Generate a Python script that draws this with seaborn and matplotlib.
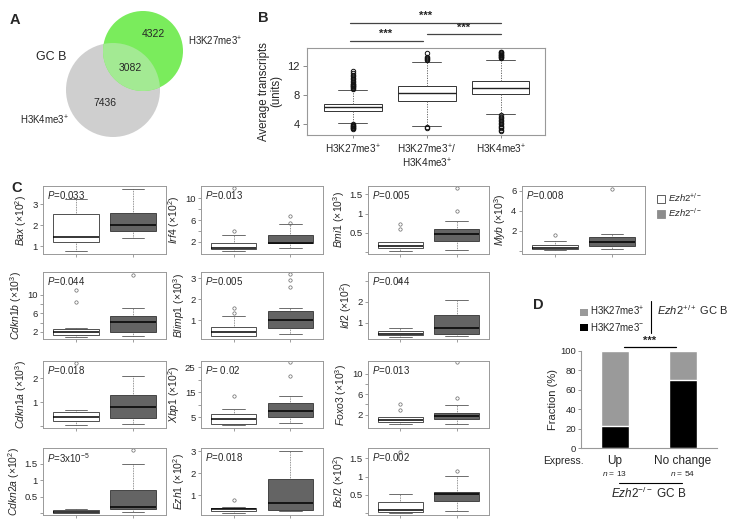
import matplotlib
matplotlib.use("Agg")
import matplotlib.pyplot as plt
from matplotlib.patches import Circle, Patch
import seaborn as sns

sns.set_style("ticks")
plt.rcParams['font.family'] = ['Liberation Sans', 'DejaVu Sans']
plt.rcParams['mathtext.fontset'] = 'custom'
plt.rcParams['mathtext.rm'] = 'Liberation Sans'
plt.rcParams['mathtext.it'] = 'Liberation Sans:italic'
plt.rcParams['mathtext.bf'] = 'Liberation Sans:bold'

W, H = 735, 528

# ---- panel A: Venn counts
venn_counts = [4322, 3082, 7436]   # H3K27me3 only, both, H3K4me3 only

# ---- panel B: box stats
b_groups = ["H3K27me3$^{+}$", "H3K27me3$^{+}$/\nH3K4me3$^{+}$", "H3K4me3$^{+}$"]
b_lo = [4.09, 3.77, 5.36]
b_q1 = [5.82, 7.18, 8.09]
b_med = [6.36, 8.23, 9.05]
b_q3 = [6.82, 9.27, 10.0]
b_hi = [8.68, 12.55, 12.86]
b_out = [
    [8.9, 9.0, 9.1, 9.2, 9.3, 9.4, 9.5, 9.6, 9.8, 10.0, 10.2, 10.4, 10.6, 10.8, 11.0, 11.3,
     3.3, 3.4, 3.5, 3.6, 3.7, 3.8, 3.9, 4.0],
    [12.9, 13.0, 13.1, 13.2, 13.8, 3.5, 3.6],
    [13.1, 13.2, 13.3, 13.4, 13.5, 13.6, 13.7, 13.8, 13.9, 14.0,
     5.2, 5.0, 4.8, 4.6, 4.4, 4.2, 4.0, 3.8, 3.6, 3.4, 3.2, 3.1],
]

# ---- panel C: per-gene box stats  [whislo, q1, med, q3, whishi]
c_genes = ["Bax", "Irf4", "Bmi1", "Myb", "Cdkn1b", "Blimp1", "Id2",
           "Cdkn1a", "Xbp1", "Foxo3", "Cdkn2a", "Ezh1", "Bcl2"]
c_exp = [2, 2, 3, 3, 3, 3, 2, 3, 2, 3, 2, 2, 2]
c_p = ["0.033", "0.013", "0.005", "0.008", "0.044", "0.005", "0.044",
       "0.018", " 0.02", "0.013", "3x10$^{-5}$", "0.018", "0.002"]
c_ticks = [[1, 2, 3], [2, 4, 6, 8, 10], [0, 0.5, 1, 1.5], [0, 2, 4, 6],
           [2, 4, 6, 8, 10], [1, 2, 3], [1, 2, 3], [0, 1, 2], [5, 10, 15, 20, 25],
           [2, 4, 6, 8, 10], [0, 0.5, 1, 1.5], [1, 2, 3], [0, 0.5, 1, 1.5]]
c_shown = [[1, 2, 3], [2, 6, 10], [0.5, 1, 1.5], [2, 4, 6],
           [2, 6, 10], [1, 2, 3], [1, 2], [1, 2], [5, 15, 25],
           [2, 6, 10], [0.5, 1, 1.5], [1, 2, 3], [0.5, 1, 1.5]]
c_ylim = [(0.62, 3.88), (-0.2, 12.2), (-0.05, 1.72), (-0.3, 6.45),
          (0.5, 14.85), (0.1, 3.3), (0.21, 3.45), (-0.07, 2.72), (0.8, 27.4),
          (-0.6, 12.5), (-0.05, 1.97), (0.09, 3.14), (-0.05, 1.78)]
c_het = [[0.74, 1.18, 1.42, 2.52, 3.24], [0.43, 0.67, 0.92, 1.88, 3.2],
         [0.03, 0.10, 0.16, 0.25, 0.27], [0.05, 0.17, 0.33, 0.57, 0.97],
         [1.0, 1.43, 1.9, 2.64, 2.85], [0.22, 0.25, 0.43, 0.68, 1.2],
         [0.31, 0.41, 0.47, 0.58, 0.73], [0.05, 0.21, 0.375, 0.6, 0.68],
         [1.9, 2.3, 4.3, 6.4, 8.4], [0.1, 0.66, 1.06, 1.46, 1.6],
         [0.01, 0.02, 0.05, 0.09, 0.13], [0.17, 0.27, 0.35, 0.42, 0.45],
         [0.0, 0.03, 0.1, 0.31, 0.52]]
c_het_out = [[], [4.0, 11.9], [0.60, 0.73], [1.6], [8.5, 11.1], [1.35, 1.56],
             [3.05], [2.65], [13.5], [2.86, 4.0], [], [0.77], [1.68]]
c_ko = [[1.37, 1.74, 2.0, 2.57, 3.75], [0.98, 1.76, 1.88, 3.2, 5.3],
        [0.05, 0.29, 0.47, 0.60, 0.80], [0.17, 0.53, 0.87, 1.37, 1.7],
        [1.15, 2.06, 4.1, 5.4, 7.1], [0.32, 0.63, 1.03, 1.44, 1.60],
        [0.36, 0.44, 0.73, 1.37, 2.1], [0.08, 0.33, 0.8, 1.29, 2.1],
        [2.7, 5.2, 7.7, 10.6, 13.5], [0.26, 1.14, 1.8, 2.4, 3.94],
        [0.03, 0.12, 0.2, 0.70, 1.48], [0.27, 0.32, 0.62, 1.73, 3.0],
        [0.05, 0.32, 0.52, 0.59, 1.02]]
c_ko_out = [[], [5.5, 6.76], [1.07, 1.66], [6.2], [14.3], [2.6, 2.9, 3.2],
            [], [], [21.4, 27.0], [5.34, 12.26], [1.9], [], [1.15]]

# ---- panel D
d_cats = ["Up", "No change"]
d_total = [100, 100]
d_neg = [23.1, 70.4]
d_n = [13, 54]

fig = plt.figure(figsize=(W / 100, H / 100), dpi=100)

ax0 = fig.add_axes([0, 0, 1, 1])
ax0.set_xlim(0, W)
ax0.set_ylim(H, 0)
ax0.axis("off")


def add_ax(l, t, r, b):
    return fig.add_axes([l / W, 1 - b / H, (r - l) / W, (b - t) / H])


def stats(v, out):
    return dict(whislo=v[0], q1=v[1], med=v[2], q3=v[3], whishi=v[4], fliers=out)


# panel letters
for letter, x, y in [("A", 15, 20), ("B", 263, 18), ("C", 17, 188), ("D", 538, 305)]:
    ax0.text(x, y, letter, fontsize=10.5, fontweight="bold", ha="center", va="center")

# ---- A: Venn
gray_c = Circle((113, 90), 47, fc="#cfcfcf", ec="none")
green_c = Circle((143, 51), 40, fc="#7aec5c", ec="none")
ax0.add_patch(gray_c)
ax0.add_patch(green_c)
overlap = Circle((113, 90), 47, fc="#a3ea93", ec="none")
ax0.add_patch(overlap)
overlap.set_clip_path(green_c)
ax0.text(153, 34, f"{venn_counts[0]}", fontsize=7.5, ha="center", va="center")
ax0.text(130, 68, f"{venn_counts[1]}", fontsize=7.5, ha="center", va="center")
ax0.text(105, 103, f"{venn_counts[2]}", fontsize=7.5, ha="center", va="center")
ax0.text(51, 57, "GC B", fontsize=9, ha="center", va="center")
ax0.text(188, 41, "H3K27me3$^{+}$", fontsize=7, ha="left", va="center")
ax0.text(20, 120, "H3K4me3$^{+}$", fontsize=7, ha="left", va="center")

# ---- B
axb = add_ax(307, 48, 545, 135)
bst = [stats([b_lo[i], b_q1[i], b_med[i], b_q3[i], b_hi[i]], b_out[i]) for i in range(3)]
axb.bxp(bst, positions=[1, 2, 3], widths=0.78, capwidths=0.39, patch_artist=True,
        boxprops=dict(facecolor="white", edgecolor="#333333", linewidth=0.7),
        medianprops=dict(color="#222222", linewidth=1.0),
        whiskerprops=dict(color="#555555", linewidth=0.6, linestyle=(0, (1.5, 1.5))),
        capprops=dict(color="#555555", linewidth=0.7),
        flierprops=dict(marker="o", markersize=3.2, markerfacecolor="none",
                        markeredgecolor="#111111", markeredgewidth=0.7))
axb.set_xlim(0.38, 3.6)
axb.set_ylim(2.5, 14.5)
axb.set_yticks([4, 8, 12])
axb.set_xticks([1, 2, 3])
axb.set_xticklabels(b_groups, fontsize=7.2, linespacing=1.1)
axb.tick_params(axis="y", labelsize=8, length=3, width=0.6, pad=2, color="#777777")
axb.tick_params(axis="x", length=2.5, width=0.6, pad=3, color="#777777")
axb.set_ylabel("Average transcripts\n(units)", fontsize=8.3, labelpad=4, linespacing=1.05)
for s in axb.spines.values():
    s.set_color("#999999")
    s.set_linewidth(0.8)
for x0, x1, yv, xs in [(0.96, 3.0, 17.97, 1.98), (0.96, 1.95, 15.5, 1.44), (2.01, 3.0, 16.4, 2.5)]:
    axb.plot([x0, x1], [yv, yv], color="#444444", lw=0.9, clip_on=False)
    axb.text(xs, yv + 0.25, "***", fontsize=8, ha="center", va="bottom", fontweight="bold")

# ---- C
col_l = [43, 201, 368, 522]
col_r = [166, 323, 489, 645]
row_t = [186, 272, 361, 448]
row_b = [254, 339, 428, 515]
c_cells = [(0, 0), (0, 1), (0, 2), (0, 3), (1, 0), (1, 1), (1, 2),
           (2, 0), (2, 1), (2, 2), (3, 0), (3, 1), (3, 2)]
for i, g in enumerate(c_genes):
    r, c = c_cells[i]
    ax = add_ax(col_l[c], row_t[r], col_r[c], row_b[r])
    fp = dict(marker="o", markersize=2.4, markerfacecolor="none",
              markeredgecolor="#666666", markeredgewidth=0.5)
    bp = ax.bxp([stats(c_het[i], c_het_out[i]), stats(c_ko[i], c_ko_out[i])],
                positions=[1, 2], widths=0.8, capwidths=0.4, patch_artist=True,
                boxprops=dict(edgecolor="#333333", linewidth=0.6),
                medianprops=dict(color="black", linewidth=1.1),
                whiskerprops=dict(color="#555555", linewidth=0.5, linestyle=(0, (1.2, 1.2))),
                capprops=dict(color="#555555", linewidth=0.6),
                flierprops=fp)
    bp["boxes"][0].set_facecolor("white")
    bp["boxes"][1].set_facecolor("#646464")
    ax.set_xlim(0.42, 2.58)
    ax.set_ylim(*c_ylim[i])
    ax.set_xticks([1, 2])
    ax.set_xticklabels([])
    ax.set_yticks(c_ticks[i])
    ax.set_yticklabels([f"{t:g}" if t in c_shown[i] else "" for t in c_ticks[i]])
    ax.tick_params(axis="y", labelsize=6.8, length=2.5, width=0.5, pad=1.5, color="#777777")
    ax.tick_params(axis="x", length=2, width=0.5, color="#777777")
    ax.set_ylabel(rf"$\mathit{{{g}}}$ (×10$^{{{c_exp[i]}}}$)", fontsize=7.5, labelpad=2)
    for s in ax.spines.values():
        s.set_color("#999999")
        s.set_linewidth(0.7)
    ax.text(0.035, 0.95, rf"$\mathit{{P}}$={c_p[i]}", transform=ax.transAxes,
            fontsize=7, ha="left", va="top")

# legend C
leg_c = [Patch(facecolor="white", edgecolor="#444444", linewidth=0.6, label=r"$\mathit{Ezh2}^{+/-}$"),
         Patch(facecolor="#8c8c8c", edgecolor="#8c8c8c", linewidth=0.6, label=r"$\mathit{Ezh2}^{-/-}$")]
fig.legend(handles=leg_c, loc="upper left", bbox_to_anchor=(652 / W, 1 - 187 / H),
           frameon=False, fontsize=6.8, handlelength=0.9, handleheight=0.9,
           handletextpad=0.25, labelspacing=0.25, borderpad=0)

# ---- D
axd = add_ax(581, 350.7, 717, 448.3)
sns.barplot(x=d_cats, y=d_total, color="#9a9a9a", width=0.4, saturation=1, ax=axd)
sns.barplot(x=d_cats, y=d_neg, color="black", width=0.4, saturation=1, ax=axd)
axd.set_xlim(-0.5, 1.5)
axd.set_ylim(0, 100)
axd.set_yticks([0, 20, 40, 60, 80, 100])
axd.tick_params(axis="y", labelsize=6.8, length=2.5, width=0.6, pad=1, color="#888888")
axd.tick_params(axis="x", labelsize=8.5, length=0, pad=5)
axd.set_ylabel("Fraction (%)", fontsize=8, labelpad=2)
axd.set_xlabel("")
sns.despine(ax=axd)
for s in ["left", "bottom"]:
    axd.spines[s].set_color("#999999")
    axd.spines[s].set_linewidth(0.8)
for j, n in enumerate(d_n):
    axd.text(j, -0.26, rf"$\mathit{{n}}$ = {n}", transform=axd.get_xaxis_transform(),
             fontsize=6, ha="center", va="center")
axd.plot([0.13, 0.9], [104, 104], color="black", lw=0.9, clip_on=False)
axd.text(0.515, 104.5, "***", fontsize=8, ha="center", va="bottom", fontweight="bold")

ax0.text(584, 461, "Express.", fontsize=7.5, ha="right", va="center")
ax0.plot([619, 682], [483.3, 483.3], color="black", lw=0.8)
ax0.text(649, 493, r"$\mathit{Ezh2}^{-/-}$ GC B", fontsize=8.5, ha="center", va="center")

# legend D
leg_d = [Patch(facecolor="#9a9a9a", edgecolor="none", label="H3K27me3$^{+}$"),
         Patch(facecolor="black", edgecolor="none", label="H3K27me3$^{-}$")]
fig.legend(handles=leg_d, loc="upper left", bbox_to_anchor=(575 / W, 1 - 300 / H),
           frameon=False, fontsize=7, handlelength=0.8, handleheight=0.8,
           handletextpad=0.25, labelspacing=0.3, borderpad=0)
ax0.plot([651, 651], [301, 333], color="black", lw=0.8)
ax0.text(657, 310, r"$\mathit{Ezh2}^{+/+}$ GC B", fontsize=8, ha="left", va="center")

fig.savefig("out.png", dpi=100)
